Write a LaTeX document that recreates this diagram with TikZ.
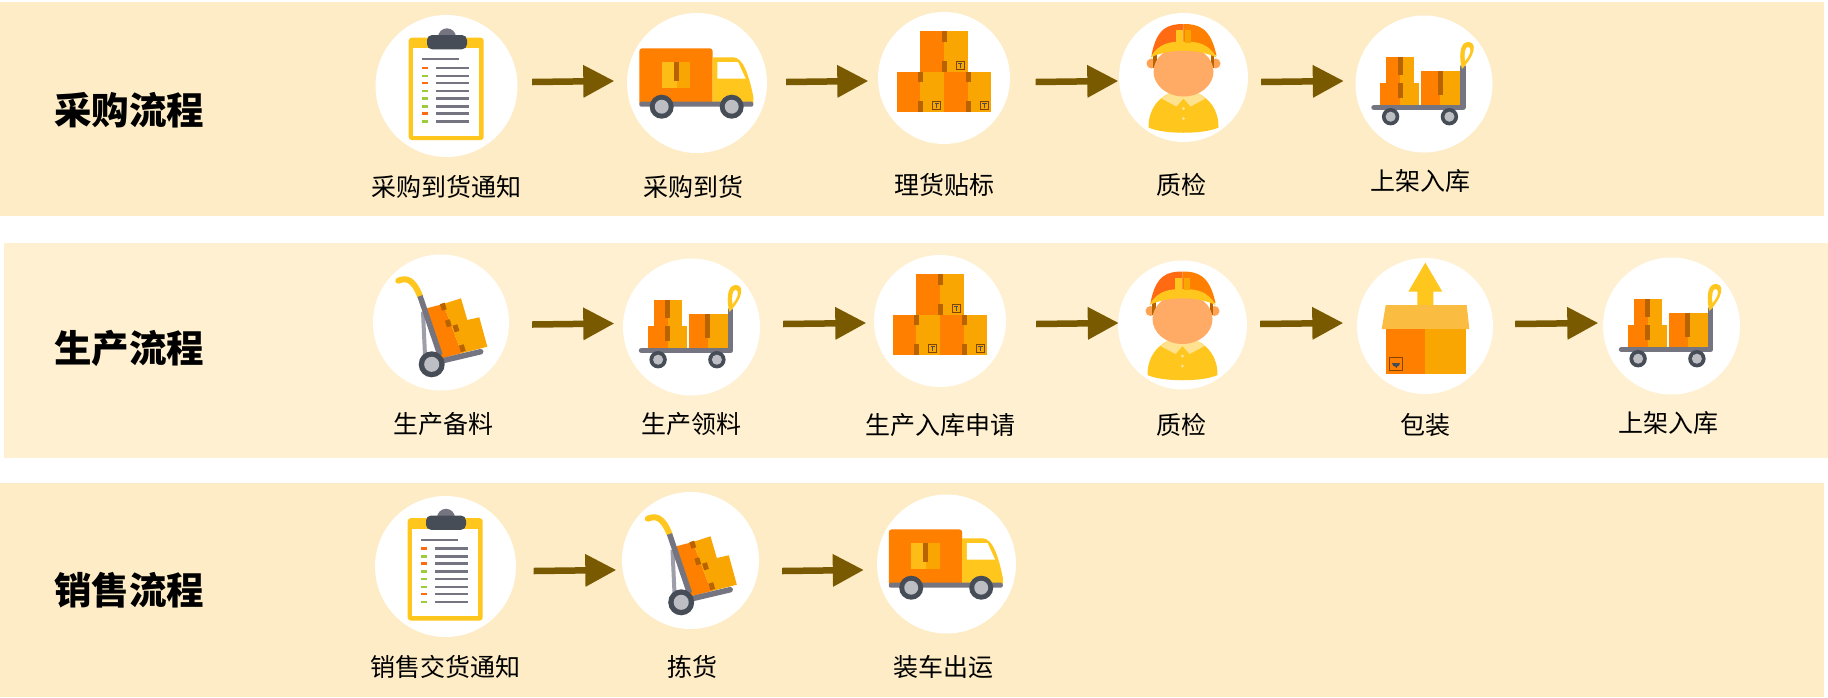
\documentclass[tikz,border=0pt]{standalone}
\usepackage{fontspec}
\setmainfont{Noto Sans CJK SC}
\usetikzlibrary{arrows.meta}
\definecolor{bandA}{HTML}{FDECC6}
\definecolor{bandB}{HTML}{FEF0D0}
\definecolor{arrowbrown}{HTML}{7A5A00}
\definecolor{boxorange}{HTML}{FF7F00}
\definecolor{boxyellow}{HTML}{F9A602}
\definecolor{tapebrown}{HTML}{B96300}
\definecolor{padyellow}{HTML}{FFC61E}
\definecolor{clipdark}{HTML}{474D57}
\definecolor{steel}{HTML}{757582}
\definecolor{hubgrey}{HTML}{BDBDC4}
\definecolor{dashgreen}{HTML}{9CCB3B}
\definecolor{dashorange}{HTML}{FF6A13}
\definecolor{skin}{HTML}{FFAB66}
\tikzstyle{disc} = [circle, fill=white, inner sep=0pt]
\tikzstyle{stage} = [font=\fontsize{25}{25}\selectfont, text height=22pt, text depth=3pt, inner sep=0pt]
\tikzstyle{rowtitle} = [font=\fontsize{37.5}{37.5}\selectfont\bfseries, text height=33pt, text depth=4.5pt, inner sep=0pt]
\tikzstyle{arrow} = [line width=6.5pt, arrowbrown, shorten >=-1.5pt, -{Triangle[length=31pt,width=31pt]}]
\tikzstyle{post} = [line width=5.5pt, steel, line cap=round, line join=round]
\newcommand{\crate}[5]{\fill [boxorange] (#1,#4) rectangle (#2,#5); \fill [boxyellow] (#2,#4) rectangle (#3,#5);}
\newcommand{\tape}[3]{\fill [tapebrown] (#1-2.5,#2) rectangle (#1+2.5,#3);}
\newcommand{\boxtag}[2]{\draw [tapebrown!70!black, line width=.8pt] (#1-4,#2-4) rectangle (#1+4,#2+4); \draw [clipdark, line width=1pt] (#1-2.2,#2-2) -- (#1+2.2,#2-2) (#1,#2-2) -- (#1,#2+2.5);}
\newcommand{\wheel}[3]{\fill [clipdark] (#1,#2) circle (#3); \fill [hubgrey] (#1,#2) circle (#3*.58);}
\tikzset{
  clipboard/.pic={
    \fill [padyellow, rounded corners=3pt] (-37.8,-48.3) rectangle (37.2,54);
    \fill [white] (-33.8,-37.7) rectangle (32.8,49.7);
    \fill [steel] (0.5,-48.7) circle (9);
    \fill [clipdark, rounded corners=5pt] (-19.5,-36.7) -- (-19.5,-51) -- (20.5,-51) -- (20.5,-36.7) -- cycle;
    \draw [steel, line width=2pt] (-24.5,-26.7) -- (12.8,-26.7);
    \foreach \ly/\dash in {-18/dashorange, -10/dashgreen, -3/dashorange, 5/dashgreen, 12.3/dashgreen, 20.3/dashgreen, 27.3/dashorange, 35.3/dashgreen} {
      \draw [\dash, line width=2.6pt] (-24.5,\ly) -- (-18.2,\ly);
      \draw [steel, line width=2.4pt] (-10.5,\ly) -- (22.8,\ly);
    }
  },
  truck/.pic={
    \fill [boxorange, rounded corners=3pt] (-57.7,-34.7) rectangle (15.7,22);
    \fill [padyellow] (15.7,-25.7) -- (36,-25.7) .. controls (46,-25.7) and (52,-8) .. (56.3,13.7) -- (56.3,20) -- (15.7,20) -- cycle;
    \fill [white] (20.3,-21) -- (41,-21) -- (48.7,-4.3) -- (20.3,-4.3) -- cycle;
    \fill [steel, rounded corners=2pt] (-57.7,18.7) rectangle (56.3,23.7);
    \fill [padyellow!70!boxyellow] (-35.3,-20.7) rectangle (-20.3,4.7);
    \fill [boxyellow] (-20.3,-20.7) rectangle (-7,4.7);
    \tape{-21}{-20.7}{-2}
    \wheel{-35.3}{23.7}{12}
    \wheel{34.7}{23.7}{12}
  },
  boxes/.pic={
    \crate{-24}{0}{24}{-47}{-6}
    \crate{-47}{-24}{0}{-6}{34}
    \crate{0}{24}{47}{-6}{34}
    \tape{0}{-47}{-36}
    \tape{0}{-17}{-6}
    \tape{-24}{-6}{4}
    \tape{-24}{23}{34}
    \tape{24}{-6}{4}
    \tape{24}{23}{34}
    \boxtag{16}{-13}
    \boxtag{-7.3}{27.7}
    \boxtag{40.5}{27.7}
  },
  worker/.pic={
    \fill [skin!80!boxorange] (-32,-14) circle (5);
    \fill [skin!80!boxorange] (32,-14) circle (5);
    \fill [tapebrown] (-30.5,-24) rectangle (-27,-10);
    \fill [tapebrown] (27,-24) rectangle (30.5,-10);
    \fill [padyellow] (-35,50) .. controls (-35,32) and (-26,21) .. (-13,15) -- (13,15) .. controls (26,21) and (35,32) .. (35,50) .. controls (20,57) and (-20,57) .. cycle;
    \fill [padyellow!50!white] (-22,21) -- (-11,13) -- (11,13) -- (22,21) -- (7,29) -- (0,21) -- (-7,29) -- cycle;
    \fill [padyellow!50!white] (0,31) circle (1.7) (0,41) circle (1.7);
    \fill [skin] (0,-6) ellipse (30 and 25);
    \fill [dashorange] (0,-53.5) .. controls (-15,-53.5) and (-27,-50) .. (-32,-22) -- (0,-30) -- cycle;
    \fill [boxorange] (0,-53.5) .. controls (15,-53.5) and (27,-50) .. (33,-22) -- (0,-30) -- cycle;
    \fill [padyellow] (-33,-20) .. controls (-25,-35) and (-12,-36) .. (0,-36) .. controls (12,-36) and (25,-35) .. (33,-20) .. controls (15,-29) and (-15,-29) .. cycle;
    \fill [padyellow] (-8,-47.5) rectangle (-1,-35);
    \fill [boxyellow] (1,-47.5) rectangle (7,-35);
  },
  cart/.pic={
    \crate{-38}{-24}{-10}{-26.7}{-0.7}
    \crate{-44}{-24}{-5}{-0.7}{20.7}
    \crate{-3}{16.4}{36}{-12.7}{20.7}
    \tape{-24}{-26.7}{-9}
    \tape{-24}{-0.7}{14}
    \tape{16.4}{-12.7}{11}
    \draw [post] (39,-17) -- (39,23.5) -- (-50,23.5);
    \fill [padyellow] (38,-15) .. controls (35,-25) and (35,-42) .. (44,-42) .. controls (53,-42) and (52,-30) .. cycle;
    \fill [white] (41,-23) .. controls (40,-30) and (41,-37) .. (44,-37) .. controls (48,-37) and (47,-30) .. cycle;
    \wheel{-33.4}{32.7}{8.7}
    \wheel{25.4}{32.7}{8.7}
  },
  trolley/.pic={
    \draw [padyellow, line width=6pt, line cap=round] (-42.7,-41.8) .. controls (-35,-45) and (-28,-44) .. (-21,-26.5);
    \draw [line width=4pt, steel!70!white] (-18,-10.8) -- (-16,33);
    \fill [boxorange] (-14.3,-14.2) -- (2.3,-18.5) -- (20.7,30.7) -- (0.7,35.8) -- cycle;
    \fill [boxyellow] (2.3,-18.5) -- (20,-24.2) -- (26.3,-2.5) -- (38.3,-5.2) -- (46.3,24.2) -- (20.7,30.7) -- cycle;
    \draw [tapebrown, line width=5pt] (1.3,-19.1) -- (3.3,-12.5) (6.3,-2.5) -- (8.3,4.1) (14,2.5) -- (16,9.1) (20.3,22.5) -- (22.3,29.1);
    \draw [post, line cap=butt] (-21,-26.5) -- (-1,32.5);
    \draw [post] (-6,40) -- (39.7,29.2);
    \wheel{-9.3}{41.8}{13}
  },
  carton/.pic={
    \fill [padyellow] (0.3,-63.3) -- (17.3,-34.3) -- (8.3,-34.3) -- (8.3,-20) -- (-7.7,-20) -- (-7.7,-34.3) -- (-16.7,-34.3) -- cycle;
    \fill [boxyellow!75!white] (-39.3,-21) -- (41.7,-21) -- (44.3,3) -- (-43.3,3) -- cycle;
    \crate{-39}{0.3}{40.7}{3}{48}
    \draw [tapebrown!70!black, line width=1pt] (-35.7,31.3) rectangle (-22.3,44.7);
    \fill [clipdark] (-33,37) arc (180:0:4) -- cycle;
    \draw [clipdark, line width=1pt] (-29,37) -- (-29,42);
  }
}
\begin{document}
\begin{tikzpicture}[x=1pt, y=-1pt]

\fill [white] (0,0) rectangle (1828,697);
\fill [bandA] (0,2) rectangle (1824,216);
\fill [bandB] (4,243) rectangle (1828,458);
\fill [bandA] (0,483) rectangle (1824,697);

%% NODES

\node (r1_title) [rowtitle] at (129,110) {采购流程};
\node (r1_note) [disc, minimum size=142pt] at (446.5,86) {};
\node (r1_truck) [disc, minimum size=140pt] at (697,83) {};
\node (r1_boxes) [disc, minimum size=132pt] at (944,78) {};
\node (r1_check) [disc, minimum size=129pt] at (1183.5,77.5) {};
\node (r1_shelf) [disc, minimum size=137pt] at (1424,84) {};

\node (r1_note_label) [stage, below of=r1_note, node distance=101pt] {采购到货通知};
\node (r1_truck_label) [stage, below of=r1_truck, node distance=104pt, xshift=-4pt] {采购到货};
\node (r1_boxes_label) [stage, below of=r1_boxes, node distance=106.5pt] {理货贴标};
\node (r1_check_label) [stage, below of=r1_check, node distance=107pt, xshift=-2pt] {质检};
\node (r1_shelf_label) [stage, below of=r1_shelf, node distance=97pt, xshift=-4pt] {上架入库};

\node (r2_title) [rowtitle] at (129,348) {生产流程};
\node (r2_stock) [disc, minimum size=136pt] at (441,322.5) {};
\node (r2_draw) [disc, minimum size=137pt] at (691.5,327) {};
\node (r2_apply) [disc, minimum size=132pt] at (940,321) {};
\node (r2_check) [disc, minimum size=129pt] at (1182.5,325) {};
\node (r2_pack) [disc, minimum size=136pt] at (1425,326) {};
\node (r2_shelf) [disc, minimum size=137pt] at (1671.5,326) {};

\node (r2_stock_label) [stage, below of=r2_stock, node distance=101.5pt, xshift=2pt] {生产备料};
\node (r2_draw_label) [stage, below of=r2_draw, node distance=96.5pt] {生产领料};
\node (r2_apply_label) [stage, below of=r2_apply, node distance=103.5pt] {生产入库申请};
\node (r2_check_label) [stage, below of=r2_check, node distance=99.5pt, xshift=-1.5pt] {质检};
\node (r2_pack_label) [stage, below of=r2_pack, node distance=98.5pt] {包装};
\node (r2_shelf_label) [stage, below of=r2_shelf, node distance=97pt, xshift=-3.5pt] {上架入库};

\node (r3_title) [rowtitle] at (129,590) {销售流程};
\node (r3_note) [disc, minimum size=141pt] at (445.5,566.5) {};
\node (r3_pick) [disc, minimum size=137pt] at (690.5,560.5) {};
\node (r3_truck) [disc, minimum size=139pt] at (946.5,564) {};

\node (r3_note_label) [stage, below of=r3_note, node distance=100.5pt] {销售交货通知};
\node (r3_pick_label) [stage, below of=r3_pick, node distance=106.5pt, xshift=1.5pt] {拣货};
\node (r3_truck_label) [stage, below of=r3_truck, node distance=103pt, xshift=-3.5pt] {装车出运};

%% ICONS

\pic at (r1_note) {clipboard};
\pic at (r1_truck) {truck};
\pic at (r1_boxes) {boxes};
\pic at (r1_check) {worker};
\pic at (r1_shelf) {cart};
\pic at (r2_stock) {trolley};
\pic at (r2_draw) {cart};
\pic at (r2_apply) {boxes};
\pic at (r2_check) {worker};
\pic at (r2_pack) {carton};
\pic at (r2_shelf) {cart};
\pic at (r3_note) {clipboard};
\pic at (r3_pick) {trolley};
\pic at (r3_truck) {truck};

%% ARROWS

\draw [arrow] ([xshift=14.5pt,yshift=4pt]r1_note.east) -- ([xshift=-14pt,yshift=2pt]r1_truck.west);
\draw [arrow] ([xshift=19pt,yshift=1pt]r1_truck.east) -- ([xshift=-11pt,yshift=-3pt]r1_boxes.west);
\draw [arrow] ([xshift=25.5pt,yshift=-4pt]r1_boxes.east) -- ([xshift=-2pt,yshift=-3.5pt]r1_check.west);
\draw [arrow] ([xshift=13pt,yshift=-4.5pt]r1_check.east) -- ([xshift=-13pt,yshift=3pt]r1_shelf.west);

\draw [arrow] ([xshift=23pt,yshift=-2pt]r2_stock.east) -- ([xshift=-10pt,yshift=3.5pt]r2_draw.west);
\draw [arrow] ([xshift=23pt,yshift=3pt]r2_draw.east) -- ([xshift=-9pt,yshift=-2pt]r2_apply.west);
\draw [arrow] ([xshift=30pt,yshift=-3pt]r2_apply.east) -- ([xshift=-.5pt,yshift=2pt]r2_check.west);
\draw [arrow] ([xshift=13pt,yshift=1pt]r2_check.east) -- ([xshift=-15pt,yshift=3pt]r2_pack.west);
\draw [arrow] ([xshift=22pt,yshift=2pt]r2_pack.east) -- ([xshift=-6pt,yshift=3pt]r2_shelf.west);

\draw [arrow] ([xshift=17.5pt,yshift=-4.5pt]r3_note.east) -- ([xshift=-7pt,yshift=-9.5pt]r3_pick.west);
\draw [arrow] ([xshift=23pt,yshift=-10.5pt]r3_pick.east) -- ([xshift=-14.5pt,yshift=-6pt]r3_truck.west);

\end{tikzpicture}
\end{document}
